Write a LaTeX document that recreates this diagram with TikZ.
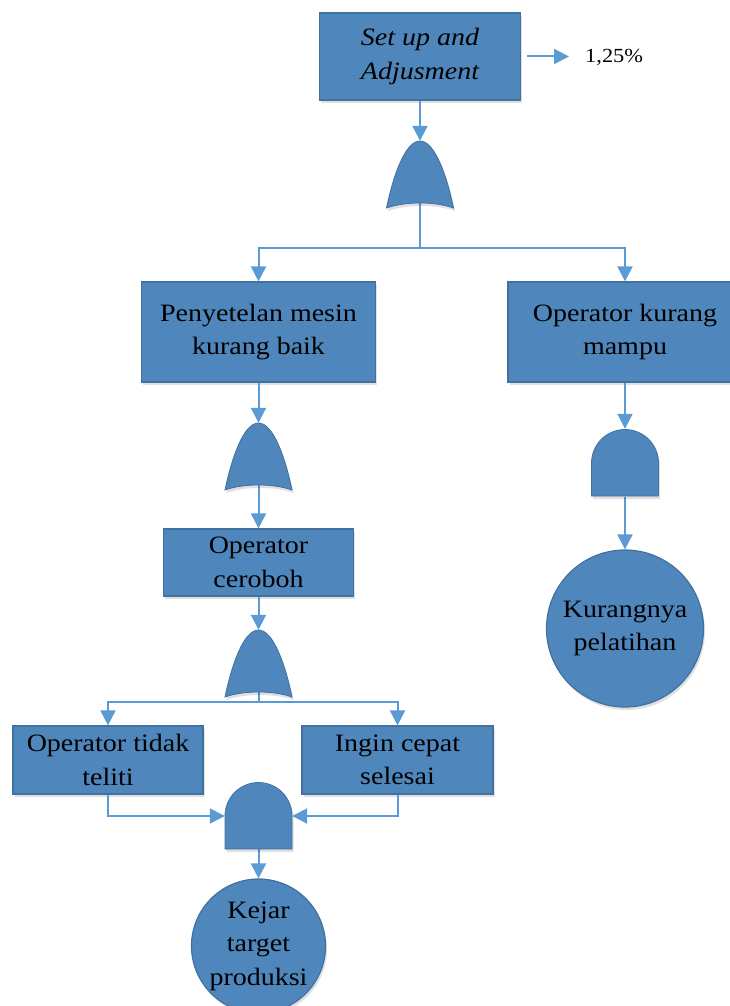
\documentclass[tikz,border=0pt]{standalone}
\usepackage{fontspec}
\setmainfont[FakeStretch=1.12]{Liberation Serif}
\usetikzlibrary{arrows.meta,shadows}
\definecolor{boxfill}{RGB}{79,134,188}
\definecolor{boxline}{RGB}{65,113,160}
\definecolor{connc}{RGB}{91,155,213}
\begin{document}
\begin{tikzpicture}[x=1pt,y=-1pt,
  every node/.style={font=\fontsize{25}{33.5}\selectfont, text=black},
  shad/.style={drop shadow={shadow xshift=1.5pt, shadow yshift=-3pt, opacity=0.12, fill=black}},
  evbox/.style={draw=boxline, fill=boxfill, line width=1.2pt, inner sep=0pt, align=center, shad},
  evcirc/.style={circle, draw=boxline, fill=boxfill, line width=1.2pt, inner sep=0pt, align=center, shad},
  gatenode/.style={inner sep=0pt, minimum width=67pt, minimum height=67pt},
  conn/.style={draw=connc, line width=2pt, -{Triangle[length=15pt,width=15pt]}},
  wire/.style={draw=connc, line width=2pt},
  orgate/.pic={
    \filldraw[fill=boxfill, draw=boxline, line width=0.8pt, shad]
      (-33.5,33.5) .. controls (-27,2) and (-15,-33.5) .. (0,-33.5)
      .. controls (15,-33.5) and (27,2) .. (33.5,33.5)
      .. controls (15,26.8) and (-15,26.8) .. cycle;
  },
  andgate/.pic={
    \filldraw[fill=boxfill, draw=boxline, line width=0.8pt, shad]
      (-33.5,33) -- (-33.5,0) arc[start angle=180, end angle=360, radius=33.5]
      -- (33.5,33) -- cycle;
  }
]
\useasboundingbox (0,0) rectangle (729,1006);

% events
\node[evbox, minimum width=201pt, minimum height=87pt] (top) at (420,56.5) {\itshape Set up and\\\itshape Adjusment};
\node[anchor=west, inner sep=0pt, font=\fontsize{20}{24}\selectfont] (pct) at (585,57) {1,25\%};
\node[evbox, minimum width=234pt, minimum height=100pt] (pen) at (258.5,332) {Penyetelan mesin\\kurang baik};
\node[evbox, minimum width=234pt, minimum height=100pt] (okm) at (625,332) {Operator kurang\\mampu};
\node[evbox, minimum width=190pt, minimum height=67pt] (cer) at (258.5,562.5) {Operator\\ceroboh};
\node[evbox, minimum width=190pt, minimum height=68pt] (otl) at (108,760) {Operator tidak\\teliti};
\node[evbox, minimum width=191pt, minimum height=68pt] (ics) at (397.5,760) {Ingin cepat\\selesai};
\node[evcirc, minimum size=134pt] (kej) at (258.5,946) {Kejar\\target\\produksi};
\node[evcirc, minimum size=157pt] (kur) at (625,628.5) {Kurangnya\\pelatihan};

% gate anchors
\node[gatenode] (g1) at (420,174.5) {};
\node[gatenode] (g2) at (258.5,456.5) {};
\node[gatenode] (g3) at (258.5,663.5) {};
\node[gatenode, minimum height=66pt] (a1) at (258.5,816) {};
\node[gatenode, minimum height=68pt] (a2) at (625,463) {};
\coordinate (s1) at (420,248);
\coordinate (s3) at (258.5,702);

% connectors
\draw[conn, shorten <=6pt, shorten >=16pt] (top.east) -- (top.east -| pct.west);
\draw[conn] (top.south) -- (g1.north);
\draw[wire] (g1.center) -- (s1);
\draw[conn] (s1) -| (pen.north);
\draw[conn] (s1) -| (okm.north);
\draw[conn] (pen.south) -- (g2.north);
\draw[conn] (g2.center) -- (cer.north);
\draw[conn] (cer.south) -- (g3.north);
\draw[wire] (g3.center) -- (s3);
\draw[conn] (s3) -| (otl.north);
\draw[conn] (s3) -| (ics.north);
\draw[conn] (otl.south) |- (a1.west);
\draw[conn] (ics.south) |- (a1.east);
\draw[conn] (a1.south) -- (kej.north);
\draw[conn] (okm.south) -- (a2.north);
\draw[conn] (a2.south) -- (kur.north);

% gates
\pic at (g1.center) {orgate};
\pic at (g2.center) {orgate};
\pic at (g3.center) {orgate};
\pic at (a1.center) {andgate};
\pic at (a2.center) {andgate};
\end{tikzpicture}
\end{document}
